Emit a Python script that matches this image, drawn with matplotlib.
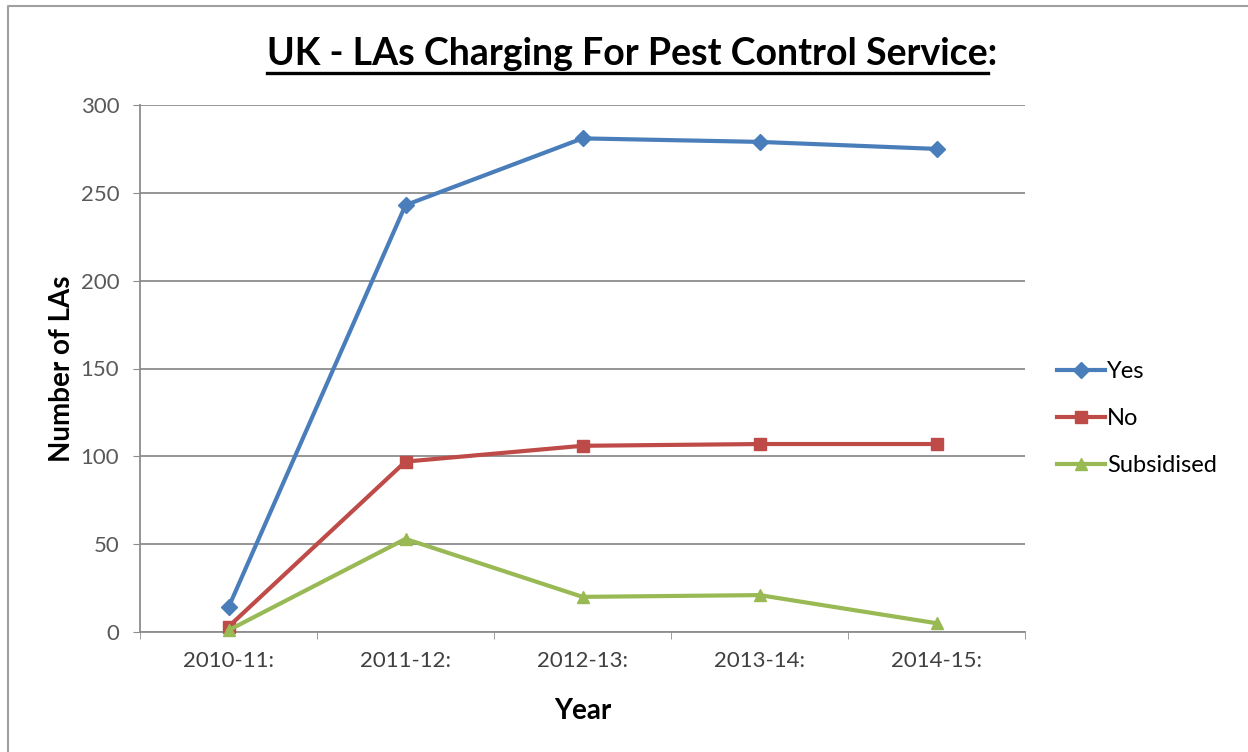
import matplotlib

matplotlib.use("Agg")
import matplotlib.pyplot as plt
from matplotlib.lines import Line2D

# --- data --------------------------------------------------------------------
years = ["2010-11:", "2011-12:", "2012-13:", "2013-14:", "2014-15:"]
yes = [14, 243, 281, 279, 275]
no = [3, 97, 106, 107, 107]
subsidised = [1, 53, 20, 21, 5]

SERIES = [
    ("Yes", yes, "#4A7EBB", "D", 8),
    ("No", no, "#BE4B48", "s", 8.5),
    ("Subsidised", subsidised, "#98B954", "^", 9),
]

plt.rcParams["font.family"] = ["Lato", "DejaVu Sans"]
TICK_COLOR = "#595959"
GRID_COLOR = "#8C8C8C"

fig = plt.figure(figsize=(12.48, 7.52), dpi=100)
ax = fig.add_axes([140 / 1248, 1 - 632 / 752, 885 / 1248, 527 / 752])

x = list(range(len(years)))
for label, values, color, marker, ms in SERIES:
    ax.plot(x, values, color=color, linewidth=3, marker=marker, markersize=ms,
            markeredgecolor=color, label=label, clip_on=False, zorder=3)

ax.set_xlim(-0.5, len(years) - 0.5)
ax.set_ylim(0, 300)
ax.set_yticks(range(0, 301, 50))
ax.set_xticks(x)
ax.set_xticklabels(years)
ax.set_xticks([i - 0.5 for i in range(len(years) + 1)], minor=True)
ax.tick_params(axis="x", which="major", length=0, pad=14, labelsize=16, labelcolor="#404040")
ax.tick_params(axis="x", which="minor", length=5, color=GRID_COLOR, direction="out")
ax.tick_params(axis="y", length=5, color=GRID_COLOR, pad=10, labelsize=16, labelcolor=TICK_COLOR)

ax.set_axisbelow(True)
ax.yaxis.grid(True, color=GRID_COLOR, linewidth=1.3)
for side in ("top", "right"):
    ax.spines[side].set_visible(False)
for side in ("left", "bottom"):
    ax.spines[side].set_color(GRID_COLOR)
    ax.spines[side].set_linewidth(1.3)

ax.set_ylabel("Number of LAs", fontsize=20, fontweight="bold", labelpad=4)
ax.set_xlabel("Year", fontsize=20, fontweight="bold", labelpad=19)

ax.legend(loc="center left", bbox_to_anchor=(1.026, 0.405), borderaxespad=0,
          frameon=False, fontsize=17, handlelength=2.0, handletextpad=0.1,
          labelspacing=1.1)

# title with an underline that stops before the colon
title_main = "UK - LAs Charging For Pest Control Service"
title = fig.text(0.5 * (262 + 1003) / 1248, 1 - 54 / 752, title_main + ":",
                 ha="center", va="center", fontsize=27, fontweight="bold")
fig.canvas.draw()
renderer = fig.canvas.get_renderer()
full = title.get_window_extent(renderer)
probe = fig.text(0, 0, title_main, fontsize=27, fontweight="bold")
part = probe.get_window_extent(renderer)
probe.remove()
y_line = full.y0 - 2
fig.add_artist(Line2D([full.x0 / fig.bbox.width, (full.x0 + part.width) / fig.bbox.width],
                      [y_line / fig.bbox.height] * 2, color="black", linewidth=2.4,
                      transform=fig.transFigure))

# outer chart border (top and left edges are visible in the reference)
fig.add_artist(Line2D([8 / 1248, 8 / 1248, 1.0], [0.0, 1 - 6 / 752, 1 - 6 / 752],
                      color="#A0A0A0", linewidth=1.5, transform=fig.transFigure))

fig.savefig("out.png", dpi=100)
